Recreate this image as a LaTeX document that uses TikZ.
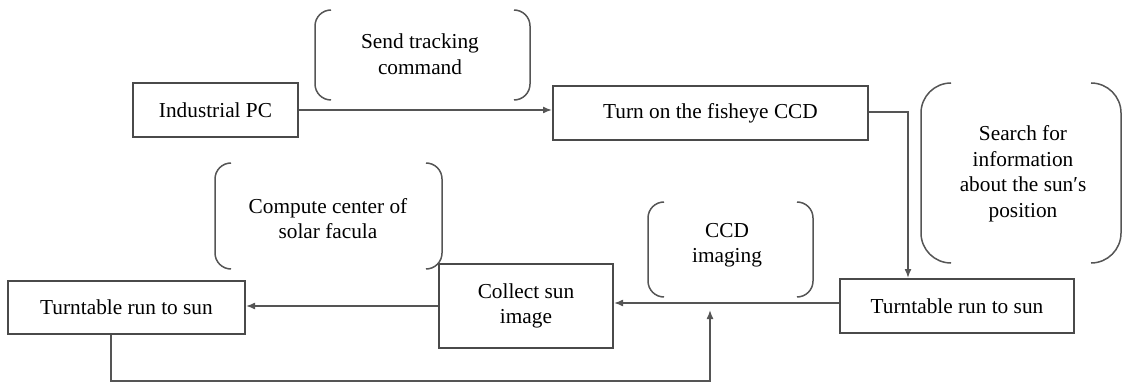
\documentclass[tikz,border=0pt]{standalone}
\usepackage{fontspec}
\setmainfont{Liberation Serif}
\usetikzlibrary{arrows.meta}
\definecolor{boxc}{HTML}{4A4A4A}
\definecolor{linec}{HTML}{555555}
\tikzset{
  box/.style={draw=boxc, line width=2pt, rectangle, inner sep=0pt, align=center,
    font=\fontsize{21.3}{25.5}\selectfont},
  lbl/.style={inner sep=0pt, align=center, font=\fontsize{21.3}{25.5}\selectfont},
  conn/.style={draw=linec, line width=1.5pt},
  arr/.style={conn, -{Latex[length=9pt,width=7pt]}},
  brk/.style={draw=linec, line width=1.5pt},
}
\newcommand\brkpair[5]{%
  \draw[brk, rounded corners=#5pt] ({#1+#5},#3) -- (#1,#3) -- (#1,#4) -- ({#1+#5},#4);
  \draw[brk, rounded corners=#5pt] ({#2-#5},#3) -- (#2,#3) -- (#2,#4) -- ({#2-#5},#4);
}
\begin{document}
\begin{tikzpicture}[x=1pt,y=-1pt]
\useasboundingbox (0,0) rectangle (1123,382);
% boxes
\node[box, minimum width=165pt, minimum height=54pt] (pc) at (215.5,110) {Industrial PC};
\node[box, minimum width=315pt, minimum height=54pt] (fish) at (710.5,113) {Turn on the fisheye CCD};
\node[box, minimum width=234pt, minimum height=54pt] (ttr) at (957,306) {Turntable run to sun};
\node[box, minimum width=174pt, minimum height=84pt] (col) at (526,306) {Collect sun\\image};
\node[box, minimum width=237pt, minimum height=53pt] (ttl) at (126.5,307.5) {Turntable run to sun};
% brackets
\brkpair{315}{530}{10}{100}{16}
\node[lbl] (send) at (420,54) {Send tracking\\command};
\brkpair{921}{1121}{83}{263}{30}
\node[lbl] (search) at (1023,174) {Search for\\information\\about the sun\char"2032 s\\position};
\brkpair{648}{813}{202}{297}{16}
\node[lbl] (ccd) at (727,245) {CCD\\imaging};
\brkpair{215}{442}{163}{269}{16}
\node[lbl] (comp) at (328,218.5) {Compute center of\\solar facula};
% connectors
\draw[arr] (pc.east) -- (pc.east -| fish.west);
\coordinate (c1) at (908,112);
\draw[arr] (fish.east |- c1) -- (c1) -- (ttr.north -| c1);
\draw[arr] (ttr.west |- 0,303) -- (col.east |- 0,303);
\draw[arr] (col.west |- 0,306) -- (ttl.east |- 0,306);
\coordinate (b1) at (111,381);
\coordinate (b2) at (710,381);
\coordinate (b3) at (710,310);
\draw[arr] (ttl.south -| b1) -- (b1) -- (b2) -- (b3);
\end{tikzpicture}
\end{document}
